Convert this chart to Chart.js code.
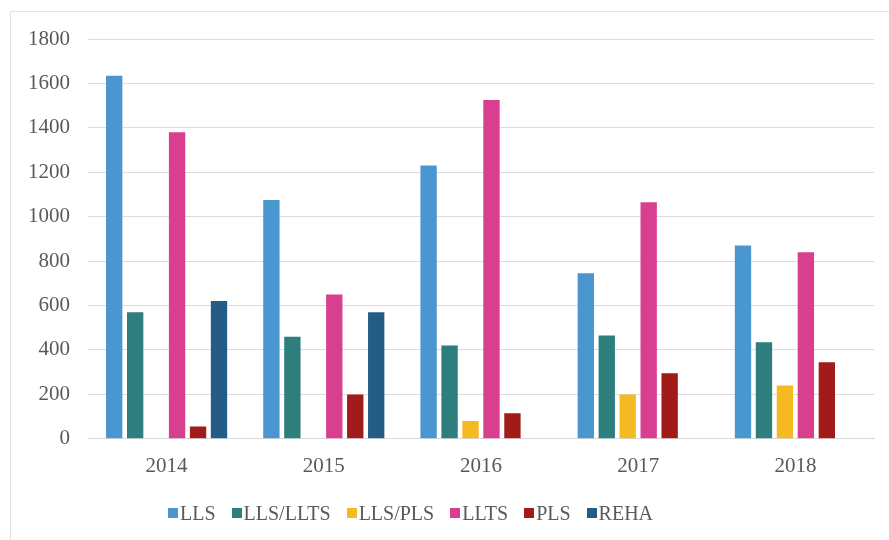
<!DOCTYPE html>
<html>
<head>
<meta charset="utf-8">
<script src="https://cdn.jsdelivr.net/npm/chart.js@4"></script>
<style>
  html, body { margin: 0; padding: 0; background: #ffffff; }
  #wrap { position: relative; width: 889px; height: 540px; overflow: hidden; background: #fff; }
  #frame { position: absolute; left: 10px; top: 11px; right: -5px; bottom: -5px; border-top: 1px solid #e4e4e4; border-left: 1px solid #e4e4e4; }
  #c { position: absolute; left: 0; top: 0; }
  #legend { position: absolute; left: 160px; top: 501px; height: 24px; display: flex; align-items: center; font-family: "Liberation Serif", "Times New Roman", serif; font-size: 20px; color: #595959; white-space: nowrap; }
  .item { display: flex; align-items: center; margin: 0 8px; }
  .box { width: 10px; height: 10px; margin-right: 2px; }
</style>
</head>
<body>
<div id="wrap">
  <div id="frame"></div>
  <canvas id="c" width="889" height="540"></canvas>
  <div id="legend"></div>
</div>
<script>
const categories = ["2014", "2015", "2016", "2017", "2018"];
const seriesNames = ["LLS", "LLS/LLTS", "LLS/PLS", "LLTS", "PLS", "REHA"];
const llsValues      = [1635, 1075, 1230, 745, 870];
const llsLltsValues  = [570, 460, 420, 465, 435];
const llsPlsValues   = [null, null, 80, 200, 240];
const lltsValues     = [1380, 650, 1525, 1065, 840];
const plsValues      = [55, 200, 115, 295, 345];
const rehaValues     = [620, 570, null, null, null];
const yTicks = [0, 200, 400, 600, 800, 1000, 1200, 1400, 1600, 1800];

const colors = ["#4a96d0", "#2e7e7e", "#f5b922", "#d83f8e", "#a11b1b", "#235d86"];
const allValues = [llsValues, llsLltsValues, llsPlsValues, lltsValues, plsValues, rehaValues];

const datasets = seriesNames.map((name, i) => ({
  label: name,
  data: allValues[i],
  backgroundColor: colors[i],
  borderWidth: 0,
  categoryPercentage: 0.80,
  barPercentage: 0.78
}));

const font = { family: "'Liberation Serif', 'Times New Roman', serif", size: 21 };

new Chart(document.getElementById('c'), {
  type: 'bar',
  data: { labels: categories, datasets },
  options: {
    responsive: false,
    animation: false,
    layout: { padding: { top: 39, right: 15, bottom: 46, left: 0 } },
    plugins: { legend: { display: false }, tooltip: { enabled: false } },
    scales: {
      x: {
        grid: { display: false, drawTicks: false },
        border: { display: true, color: '#d9d9d9', width: 1 },
        ticks: { color: '#595959', font, padding: 15 }
      },
      y: {
        min: 0, max: 1800,
        afterBuildTicks: (s) => { s.ticks = yTicks.map(v => ({ value: v })); },
        afterFit: (s) => { s.width = 88; },
        grid: { color: '#dcdcdc', drawTicks: false, lineWidth: 1 },
        border: { display: false },
        ticks: { color: '#595959', font, padding: 18, callback: (v) => String(v) }
      }
    }
  }
});

const lg = document.getElementById('legend');
seriesNames.forEach((name, i) => {
  const it = document.createElement('div');
  it.className = 'item';
  const b = document.createElement('span');
  b.className = 'box';
  b.style.background = colors[i];
  const t = document.createElement('span');
  t.textContent = name;
  it.appendChild(b); it.appendChild(t);
  lg.appendChild(it);
});
</script>
</body>
</html>
